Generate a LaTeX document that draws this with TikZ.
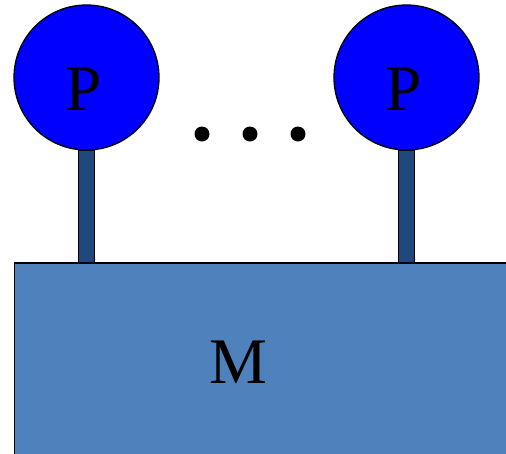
\documentclass[tikz,border=0pt]{standalone}
\usepackage{fontspec}
\setmainfont{Liberation Serif}
\begin{document}
\begin{tikzpicture}[x=1pt,y=-1pt,
  ball/.style={circle,draw=black,line width=1.3pt,fill=blue,minimum size=145pt,inner sep=0pt},
  stem/.style={rectangle,draw=black,line width=1.3pt,fill=stemblue,minimum width=16pt,minimum height=113pt,inner sep=0pt},
  box/.style={rectangle,draw=black,line width=1.3pt,fill=boxblue,inner sep=0pt},
  lbl/.style={anchor=base,font=\fontsize{65}{65}\selectfont,inner sep=0pt},
  dot/.style={circle,fill=black,minimum size=15pt,inner sep=0pt}]
\definecolor{stemblue}{HTML}{1F497D}
\definecolor{boxblue}{HTML}{4F81BD}
\useasboundingbox (0,0) rectangle (506,453);
\clip (0,0) rectangle (506,453);
\node[stem] (s1) at (86.5,206.5) {};
\node[stem] (s2) at (406.5,206.5) {};
\node[box,minimum width=520pt,minimum height=210pt] (m) at (274.5,368) {};
\node[ball] (p1) at (86.5,77.5) {};
\node[ball] (p2) at (406.5,77.5) {};
\node[lbl] (t1) at (84,110) {P};
\node[lbl] (t2) at (404,110) {P};
\node[lbl] (tm) at (238,383) {M};
\node[dot] (d1) at (202,134) {};
\node[dot] (d2) at (250,134) {};
\node[dot] (d3) at (298,134) {};
\end{tikzpicture}
\end{document}
